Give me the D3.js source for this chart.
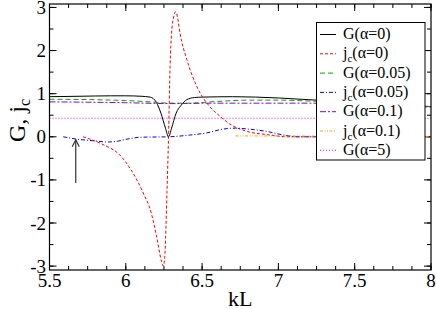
<!DOCTYPE html>
<html>
<head>
<meta charset="utf-8">
<script src="https://cdn.jsdelivr.net/npm/d3@7"></script>
<style>
  html, body { margin: 0; padding: 0; background: #fff; }
  svg { display: block; font-family: "Liberation Serif", "DejaVu Serif", serif; }
</style>
</head>
<body>
<svg id="chart" width="436" height="309"></svg>
<script>
// data: kL values and the matching curve values
var g0KL = [5.5, 5.7, 5.9, 6.0, 6.1, 6.16, 6.2, 6.23, 6.26, 6.28, 6.30, 6.33, 6.36, 6.40, 6.45, 6.5, 6.7, 7.0, 7.2, 7.5, 7.8, 8.0];
var g0Val = [0.93, 0.94, 0.95, 0.95, 0.94, 0.92, 0.80, 0.55, 0.2, 0.0, 0.2, 0.55, 0.72, 0.86, 0.91, 0.92, 0.93, 0.90, 0.86, 0.80, 0.74, 0.70];

var jc0KL = [5.72, 5.85, 5.96, 6.04, 6.11, 6.17, 6.2, 6.235, 6.245, 6.255, 6.27, 6.28, 6.29, 6.30, 6.315, 6.327, 6.34, 6.355, 6.40, 6.465, 6.55, 6.62, 6.68, 6.8, 6.93, 7.06, 7.5, 8.0];
var jc0Val = [0.0, -0.18, -0.42, -0.8, -1.27, -1.81, -2.28, -2.9, -3.0, -2.8, -1.27, 0.0, 1.63, 2.41, 2.8, 2.9, 2.75, 2.41, 1.79, 1.17, 0.70, 0.47, 0.3, 0.12, 0.05, 0.0, 0.0, 0.0];

var g005KL = [5.5, 5.8, 6.0, 6.2, 6.28, 6.4, 6.6, 6.8, 7.0, 7.2, 7.5, 7.8, 8.0];
var g005Val = [0.87, 0.86, 0.84, 0.80, 0.78, 0.78, 0.82, 0.85, 0.85, 0.83, 0.79, 0.73, 0.70];

var jc005KL = [5.59, 5.67, 5.78, 5.89, 5.95, 6.0, 6.1, 6.28, 6.42, 6.53, 6.64, 6.72, 6.8, 6.93, 7.02, 7.13, 7.5, 8.0];
var jc005Val = [0.0, -0.05, -0.09, -0.12, -0.1, -0.06, -0.01, 0.0, 0.04, 0.09, 0.18, 0.2, 0.18, 0.12, 0.05, 0.0, 0.0, 0.0];

var g01KL = [5.5, 5.8, 6.0, 6.3, 6.6, 7.0, 7.2, 7.5, 7.8, 8.0];
var g01Val = [0.81, 0.80, 0.79, 0.77, 0.78, 0.78, 0.78, 0.75, 0.71, 0.69];

var jc01KL = [6.72, 7.0, 7.5, 8.0];
var jc01Val = [0.02, 0.02, 0.01, 0.0];

var g5KL = [5.5, 8.0];
var g5Val = [0.43, 0.43];

var xTicks = [5.5, 6, 6.5, 7, 7.5, 8];
var yTicks = [-3, -2, -1, 0, 1, 2, 3];

// arrow marking the point on the curves
var arrowKL = [5.672, 5.672];
var arrowVal = [-1.07, -0.07];

var series = [
  {name: 'G', sub: null, alpha: '0', kl: g0KL, val: g0Val, color: '#000000', dash: null},
  {name: 'j', sub: 'c', alpha: '0', kl: jc0KL, val: jc0Val, color: '#ff0000', dash: '3,2'},
  {name: 'G', sub: null, alpha: '0.05', kl: g005KL, val: g005Val, color: '#00a800', dash: '5,3'},
  {name: 'j', sub: 'c', alpha: '0.05', kl: jc005KL, val: jc005Val, color: '#0000ff', dash: '4,2,1,2'},
  {name: 'G', sub: null, alpha: '0.1', kl: g01KL, val: g01Val, color: '#9400d3', dash: '6,2,2,2'},
  {name: 'j', sub: 'c', alpha: '0.1', kl: jc01KL, val: jc01Val, color: '#ffa500', dash: '3,1.5,1,1.5,1,1.5'},
  {name: 'G', sub: null, alpha: '5', kl: g5KL, val: g5Val, color: '#ff00ff', dash: '1,2'}
];

var svg = d3.select('#chart');

// plot box (window.top is reserved, so use own names)
var pLeft = 49.5, pRight = 431, pTop = 4, pBottom = 270;

var x = d3.scaleLinear().domain([5.5, 8]).range([pLeft, pRight]);
var y = d3.scaleLinear().domain([-3.09, 3.08]).range([pBottom, pTop]);

svg.append('defs').append('clipPath').attr('id', 'plot-clip')
  .append('rect')
    .attr('x', pLeft).attr('y', pTop)
    .attr('width', pRight - pLeft).attr('height', pBottom - pTop);

// ticks pointing inward on all four sides
var xMinor = d3.range(5.5, 8.0001, 0.125);
var yMinor = d3.range(-3, 3.0001, 0.5);

function tickLines(sel, vals, scale, len, orient) {
  vals.forEach(function (v) {
    var p = scale(v);
    if (orient === 'bottom') {
      sel.append('line').attr('x1', p).attr('x2', p).attr('y1', pBottom).attr('y2', pBottom - len);
    } else if (orient === 'top') {
      sel.append('line').attr('x1', p).attr('x2', p).attr('y1', pTop).attr('y2', pTop + len);
    } else if (orient === 'left') {
      sel.append('line').attr('x1', pLeft).attr('x2', pLeft + len).attr('y1', p).attr('y2', p);
    } else {
      sel.append('line').attr('x1', pRight).attr('x2', pRight - len).attr('y1', p).attr('y2', p);
    }
  });
}

var ticks = svg.append('g').attr('stroke', '#000').attr('stroke-width', 1);
['bottom', 'top'].forEach(function (o) {
  tickLines(ticks, xMinor, x, 4, o);
  tickLines(ticks, xTicks, x, 7, o);
});
['left', 'right'].forEach(function (o) {
  tickLines(ticks, yMinor, y, 4, o);
  tickLines(ticks, yTicks, y, 7, o);
});

// tick labels
svg.append('g').selectAll('text')
  .data(xTicks)
  .join('text')
    .attr('x', function (d) { return x(d); })
    .attr('y', 287)
    .attr('text-anchor', 'middle')
    .style('font-size', '19px')
    .text(function (d) { return String(d); });

svg.append('g').selectAll('text')
  .data(yTicks)
  .join('text')
    .attr('x', 46)
    .attr('y', function (d) { return y(d) + 6.5; })
    .attr('text-anchor', 'end')
    .style('font-size', '19px')
    .text(function (d) { return String(d); });

// axis titles
svg.append('text')
  .attr('x', (pLeft + pRight) / 2)
  .attr('y', 306)
  .attr('text-anchor', 'middle')
  .style('font-size', '22px')
  .text('kL');

var yTitle = svg.append('text')
  .attr('transform', 'translate(25,142) rotate(-90)')
  .attr('text-anchor', 'start')
  .style('font-size', '24px');
yTitle.append('tspan').text('G, j');
yTitle.append('tspan').attr('dy', 5).style('font-size', '16px').text('c');

// curves
var line = d3.line()
  .x(function (d) { return x(d[0]); })
  .y(function (d) { return y(d[1]); })
  .curve(d3.curveMonotoneX);

var plot = svg.append('g').attr('clip-path', 'url(#plot-clip)');

plot.selectAll('path')
  .data(series)
  .join('path')
    .attr('d', function (s) { return line(d3.zip(s.kl, s.val)); })
    .attr('fill', 'none')
    .attr('stroke', function (s) { return s.color; })
    .attr('stroke-width', 1)
    .attr('stroke-dasharray', function (s) { return s.dash; });

// arrow
var ax = x(arrowKL[0]), ay0 = y(arrowVal[0]), ay1 = y(arrowVal[1]);
var arrow = svg.append('g').attr('stroke', '#333').attr('stroke-width', 1.2).attr('fill', 'none');
arrow.append('line').attr('x1', ax).attr('x2', ax).attr('y1', ay0).attr('y2', ay1);
arrow.append('path').attr('d', 'M' + (ax - 3.5) + ',' + (ay1 + 7) + 'L' + ax + ',' + ay1 + 'L' + (ax + 3.5) + ',' + (ay1 + 7));

// frame
svg.append('rect')
  .attr('x', pLeft).attr('y', pTop)
  .attr('width', pRight - pLeft).attr('height', pBottom - pTop)
  .attr('fill', 'none')
  .attr('stroke', '#000')
  .attr('stroke-width', 1.2);

// legend
var legend = svg.append('g');
legend.append('rect')
  .attr('x', 316.5).attr('y', 22.5)
  .attr('width', 108.5).attr('height', 137.5)
  .attr('fill', '#fff')
  .attr('stroke', '#000')
  .attr('stroke-width', 1);

var rows = legend.selectAll('g.row')
  .data(series)
  .join('g')
    .attr('class', 'row')
    .attr('transform', function (s, i) { return 'translate(0,' + (34.5 + i * 19.3) + ')'; });

rows.append('line')
  .attr('x1', 320).attr('x2', 336)
  .attr('stroke', function (s) { return s.color; })
  .attr('stroke-width', 1)
  .attr('stroke-dasharray', function (s) { return s.dash; });

rows.each(function (s) {
  var t = d3.select(this).append('text')
    .attr('x', 343)
    .attr('y', 4.5)
    .style('font-size', '16px');
  t.append('tspan').text(s.name);
  if (s.sub) {
    t.append('tspan').attr('dy', 4).style('font-size', '11px').text(s.sub);
    t.append('tspan').attr('dy', -4).text('(\u03b1=' + s.alpha + ')');
  } else {
    t.append('tspan').text('(\u03b1=' + s.alpha + ')');
  }
});
</script>
</body>
</html>
